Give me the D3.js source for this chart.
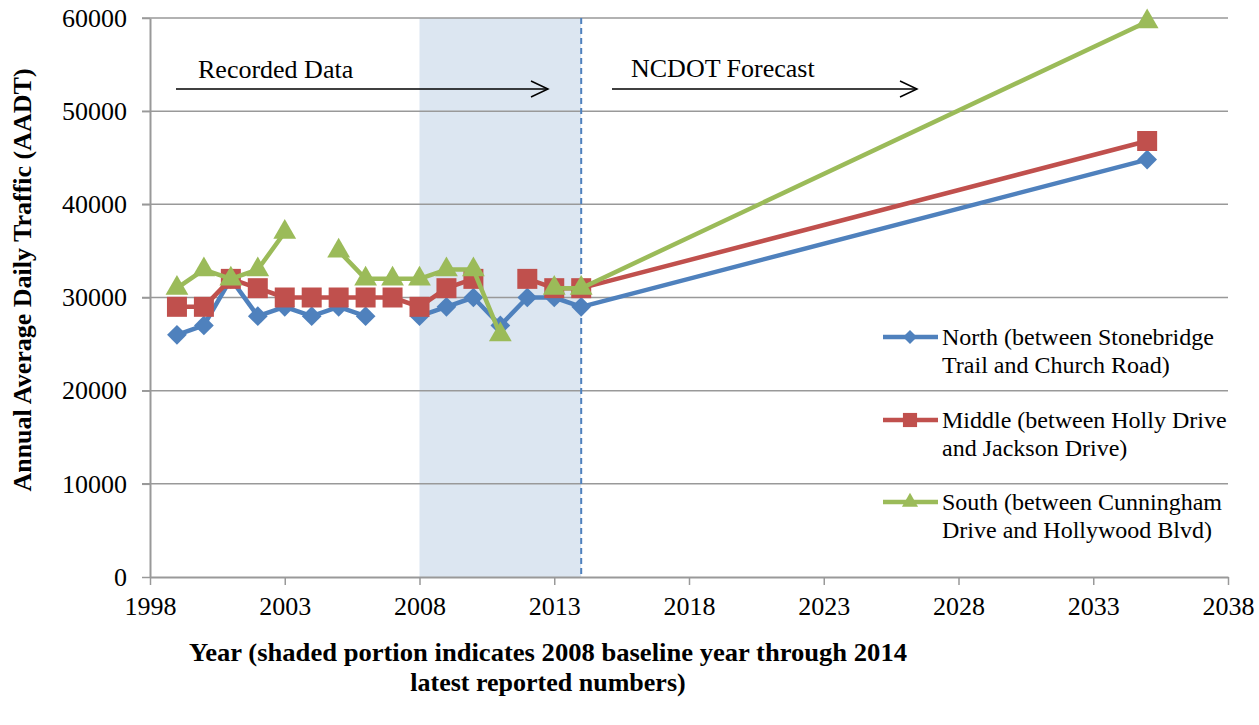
<!DOCTYPE html>
<html>
<head>
<meta charset="utf-8">
<script src="https://cdn.jsdelivr.net/npm/d3@7"></script>
<style>
  body { margin: 0; background: #fff; }
  svg text { font-family: "Liberation Serif", "Times New Roman", serif; fill: #000; }
</style>
</head>
<body>
<script>
// years, null = no reading that year
var years = [1999, 2000, 2001, 2002, 2003, 2004, 2005, 2006, 2007, 2008, 2009, 2010, 2011, 2012, 2013, 2014, 2035];
var north  = [26000, 27000, 32000, 28000, 29000, 28000, 29000, 28000, null, 28000, 29000, 30000, 27000, 30000, 30000, 29000, 44800];
var middle = [29000, 29000, 32000, 31000, 30000, 30000, 30000, 30000, 30000, 29000, 31000, 32000, null, 32000, 31000, 31000, 46800];
var south  = [31000, 33000, 32000, 33000, 37000, null, 35000, 32000, 32000, 32000, 33000, 33000, 26000, null, 31000, 31000, 59600];

var seriesNames = ["North (between Stonebridge|Trail and Church Road)",
                   "Middle (between Holly Drive|and Jackson Drive)",
                   "South (between Cunningham|Drive and Hollywood Blvd)"];
var xTicks = [1998, 2003, 2008, 2013, 2018, 2023, 2028, 2033, 2038];
var yTicks = [0, 10000, 20000, 30000, 40000, 50000, 60000];
var shaded = [2008, 2014];

drawChart();

function drawChart(){

  var width = 1259, height = 725;
  var pLeft = 150, pRight = 1228, pTop = 18, pBottom = 577;

  var svg = d3.select("body").append("svg")
    .attr("width", width)
    .attr("height", height)
    .attr("font-family", "'Liberation Serif', serif");

  var x = d3.scaleLinear().domain([1998, 2038]).range([pLeft, pRight]);
  var y = d3.scaleLinear().domain([0, 60000]).range([pBottom, pTop]);

  //shaded baseline band
  svg.append("rect")
    .attr("x", x(shaded[0]))
    .attr("y", pTop)
    .attr("width", x(shaded[1]) - x(shaded[0]))
    .attr("height", pBottom - pTop)
    .attr("fill", "#dce6f1");

  //horizontal gridlines
  svg.selectAll(".grid")
    .data(yTicks.slice(1))
    .enter().append("line")
    .attr("x1", pLeft - 8).attr("x2", pRight)
    .attr("y1", function(d){ return y(d); })
    .attr("y2", function(d){ return y(d); })
    .attr("stroke", "#999").attr("stroke-width", 1.5);

  //dashed line at latest reported year
  svg.append("line")
    .attr("x1", x(shaded[1])).attr("x2", x(shaded[1]))
    .attr("y1", pTop).attr("y2", pBottom)
    .attr("stroke", "#4f81bd").attr("stroke-width", 2)
    .attr("stroke-dasharray", "6,4");

  //axes
  var yAxis = svg.append("g")
    .attr("transform", "translate(" + pLeft + ",0)")
    .call(d3.axisLeft(y).tickValues(yTicks).tickSize(8).tickSizeOuter(0).tickPadding(15).tickFormat(d3.format("d")));
  var xAxis = svg.append("g")
    .attr("transform", "translate(0," + pBottom + ")")
    .call(d3.axisBottom(x).tickValues(xTicks).tickSize(8).tickSizeOuter(0).tickPadding(12).tickFormat(d3.format("d")));
  [xAxis, yAxis].forEach(function(a){
    a.select(".domain").attr("stroke", "#999").attr("stroke-width", 2);
    a.selectAll(".tick line").attr("stroke", "#999").attr("stroke-width", 1.5);
    a.selectAll(".tick text").attr("font-size", 26).attr("fill", "#000")
      .style("font-family", "'Liberation Serif', serif");
  });

  //series
  var colors = ["#4f81bd", "#c0504d", "#9bbb59"];
  var values = [north, middle, south];
  var shapes = [d3.symbolSquare, d3.symbolSquare, d3.symbolTriangle];
  var sizes = [195, 400, 225];
  var rot = [45, 0, 0];

  var line = d3.line()
    .defined(function(d){ return d[1] !== null; })
    .x(function(d){ return x(d[0]); })
    .y(function(d){ return y(d[1]); });

  values.forEach(function(vals, i){
    var pts = years.map(function(yr, j){ return [yr, vals[j]]; });
    var g = svg.append("g");
    g.append("path")
      .datum(pts)
      .attr("d", line)
      .attr("fill", "none")
      .attr("stroke", colors[i])
      .attr("stroke-width", 4.5)
      .attr("stroke-linejoin", "round");
    g.selectAll("path.m")
      .data(pts.filter(function(d){ return d[1] !== null; }))
      .enter().append("path")
      .attr("class", "m")
      .attr("d", d3.symbol().type(shapes[i]).size(sizes[i]))
      .attr("transform", function(d){
        return "translate(" + x(d[0]) + "," + y(d[1]) + ") rotate(" + rot[i] + ")";
      })
      .attr("fill", colors[i]);
  });

  //annotations
  function arrow(x1, x2, yy){
    svg.append("line").attr("x1", x1).attr("x2", x2).attr("y1", yy).attr("y2", yy)
      .attr("stroke", "#000").attr("stroke-width", 1.5);
    svg.append("path")
      .attr("d", "M" + (x2 - 17) + "," + (yy - 8) + "L" + x2 + "," + yy + "L" + (x2 - 17) + "," + (yy + 8))
      .attr("fill", "none").attr("stroke", "#000").attr("stroke-width", 1.5);
  }
  svg.append("text").attr("x", 198).attr("y", 78).attr("font-size", 26).text("Recorded Data");
  arrow(176, 548, 89);
  svg.append("text").attr("x", 631).attr("y", 77).attr("font-size", 26).text("NCDOT Forecast");
  arrow(612, 917, 89);

  //legend
  var legend = svg.append("g");
  var legY = [337, 420, 502];
  seriesNames.forEach(function(name, i){
    var ly = legY[i];
    legend.append("line").attr("x1", 883).attr("x2", 938).attr("y1", ly).attr("y2", ly)
      .attr("stroke", colors[i]).attr("stroke-width", 4.5);
    legend.append("path")
      .attr("d", d3.symbol().type(shapes[i]).size(sizes[i] * 0.5))
      .attr("transform", "translate(910," + ly + ") rotate(" + rot[i] + ")")
      .attr("fill", colors[i]);
    name.split("|").forEach(function(t, k){
      legend.append("text").attr("x", 942).attr("y", ly + 8 + k * 28)
        .attr("font-size", 24).text(t);
    });
  });

  //axis titles
  svg.append("text")
    .attr("transform", "translate(31,280) rotate(-90)")
    .attr("text-anchor", "middle")
    .attr("font-size", 26).attr("font-weight", "bold")
    .text("Annual Average Daily Traffic (AADT)");
  var xt = svg.append("text").attr("text-anchor", "middle").attr("font-size", 26).attr("font-weight", "bold");
  xt.append("tspan").attr("x", 548).attr("y", 661)
    .attr("textLength", 718).attr("lengthAdjust", "spacingAndGlyphs")
    .text("Year (shaded portion indicates 2008 baseline year through 2014");
  xt.append("tspan").attr("x", 548).attr("y", 691).text("latest reported numbers)");
}
</script>
</body>
</html>
